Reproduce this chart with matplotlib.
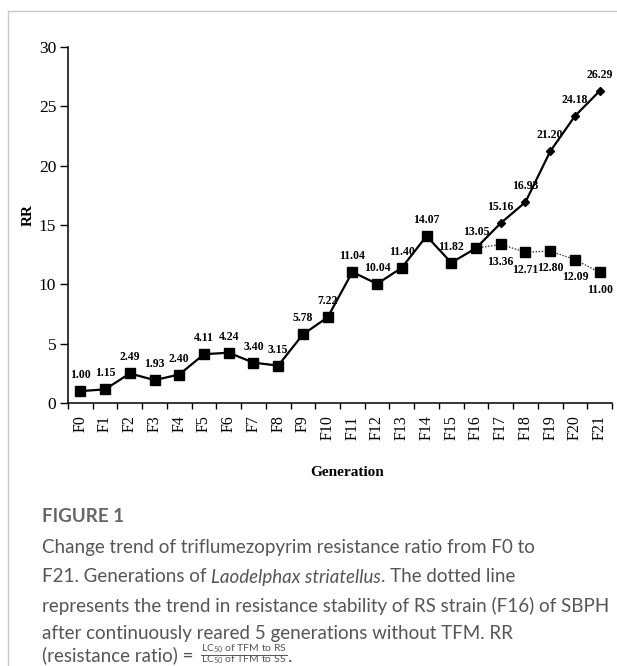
import matplotlib
matplotlib.use("Agg")
import matplotlib.pyplot as plt
from matplotlib.lines import Line2D

# data
generations = ["F%d" % i for i in range(22)]
rr_selected = [1.00, 1.15, 2.49, 1.93, 2.40, 4.11, 4.24, 3.40, 3.15, 5.78, 7.22,
               11.04, 10.04, 11.40, 14.07, 11.82, 13.05, 15.16, 16.93, 21.20,
               24.18, 26.29]
rr_unselected = [13.05, 13.36, 12.71, 12.80, 12.09, 11.00]  # F16..F21, no TFM
unselected_start = 16

W, H = 617, 666
plt.rcParams['mathtext.fontset'] = 'custom'
plt.rcParams['mathtext.rm'] = 'Lato'
plt.rcParams['mathtext.it'] = 'Lato:italic'

fig = plt.figure(figsize=(W / 100, H / 100), dpi=100)
ax = fig.add_axes([68 / W, 263 / H, 544 / W, 356 / H])

serif = "Liberation Serif"
x = list(range(len(generations)))

# squares up to F16, diamonds afterwards on the selected line
ax.plot(x[:17], rr_selected[:17], color="black", lw=1.6, marker="s", ms=6.5, zorder=3)
ax.plot(x[16:], rr_selected[16:], color="black", lw=1.6, marker="D", ms=4, zorder=3)
xu = x[unselected_start:]
ax.plot(xu, rr_unselected, color="#333333", lw=1.0, ls=(0, (1, 1.2)), zorder=2)
ax.plot(xu[1:], rr_unselected[1:], ls="none", color="black", marker="s", ms=6.5, zorder=3)

for xi, v in zip(x, rr_selected):
    ax.annotate("%.2f" % v, (xi, v), xytext=(0, 11.5), textcoords="offset points",
                ha="center", va="center", fontsize=8.5, fontweight="bold",
                family=serif)
for xi, v in zip(xu[1:], rr_unselected[1:]):
    ax.annotate("%.2f" % v, (xi, v), xytext=(0, -12.5), textcoords="offset points",
                ha="center", va="center", fontsize=8.5, fontweight="bold",
                family=serif)

ax.set_xlim(-0.5, 21.5)
ax.set_ylim(0, 30)
ax.set_yticks(range(0, 31, 5))
ax.set_xticks([i - 0.5 for i in range(23)], minor=False)
ax.set_xticklabels([])
ax.set_xticks(x, minor=True)
ax.set_xticklabels(generations, minor=True, rotation=90, family=serif, fontsize=11.5)
ax.tick_params(axis="x", which="minor", length=0, pad=9)
ax.tick_params(axis="x", which="major", length=4.5, width=1, direction="out")
ax.tick_params(axis="y", length=5.5, width=1, direction="out", pad=3)
for lab in ax.get_yticklabels():
    lab.set_family(serif)
    lab.set_fontsize(12.5)
for s in ["top", "right"]:
    ax.spines[s].set_visible(False)
for s in ["left", "bottom"]:
    ax.spines[s].set_linewidth(1.1)

fig.text(347 / W, 1 - 473 / H, "Generation", ha="center", va="center",
         family=serif, fontweight="bold", fontsize=11)
fig.text(28 / W, 1 - 215 / H, "RR", ha="center", va="center", rotation=90,
         family=serif, fontweight="bold", fontsize=11)

# page frame
fig.add_artist(Line2D([8 / W, 1], [1 - 11 / H] * 2, color="#c8c8c8", lw=1))
fig.add_artist(Line2D([8 / W] * 2, [0, 1 - 11 / H], color="#c8c8c8", lw=1))

# caption
cap = "#555555"
cap_font = "Lato"
cap_size = 13.5
fig.text(42 / W, 1 - 517 / H, "FIGURE 1", ha="left", va="center", color="#666666",
         family=cap_font, fontweight="bold", fontsize=13.5)

renderer = fig.canvas.get_renderer()


def put_line(pieces, y_px, x_px=42):
    xpos = x_px / W
    for txt, style in pieces:
        t = fig.text(xpos, 1 - y_px / H, txt, ha="left", va="center", color=cap,
                     family=cap_font, fontsize=cap_size, style=style)
        bb = t.get_window_extent(renderer=renderer)
        xpos = bb.x1 / W
    return xpos


put_line([("Change trend of triflumezopyrim resistance ratio from F0 to", "normal")], 548)
put_line([("F21. Generations of ", "normal"), ("Laodelphax striatellus", "italic"),
          (". The dotted line", "normal")], 577)
put_line([("represents the trend in resistance stability of RS strain (F16) of SBPH", "normal")], 606)
put_line([("after continuously reared 5 generations without TFM. RR", "normal")], 634)
xend = put_line([("(resistance ratio) = ", "normal")], 655)

# fraction LC50 of TFM to RS / LC50 of TFM to SS
fx0 = xend + 3 / W
num = fig.text(fx0, 1 - 649 / H, r"LC$_{50}$ of TFM to RS", ha="left", va="center",
               color=cap, family=cap_font, fontsize=7.5)
den = fig.text(fx0, 1 - 660 / H, r"LC$_{50}$ of TFM to SS", ha="left", va="center",
               color=cap, family=cap_font, fontsize=7.5)
bn = num.get_window_extent(renderer=renderer)
bd = den.get_window_extent(renderer=renderer)
fx1 = max(bn.x1, bd.x1) / W
fig.add_artist(Line2D([fx0, fx1], [1 - 654.5 / H] * 2, color=cap, lw=0.7))
fig.text(fx1 + 1 / W, 1 - 657 / H, ".", ha="left", va="center", color=cap,
         family=cap_font, fontsize=cap_size)

fig.savefig("out.png", dpi=100)
